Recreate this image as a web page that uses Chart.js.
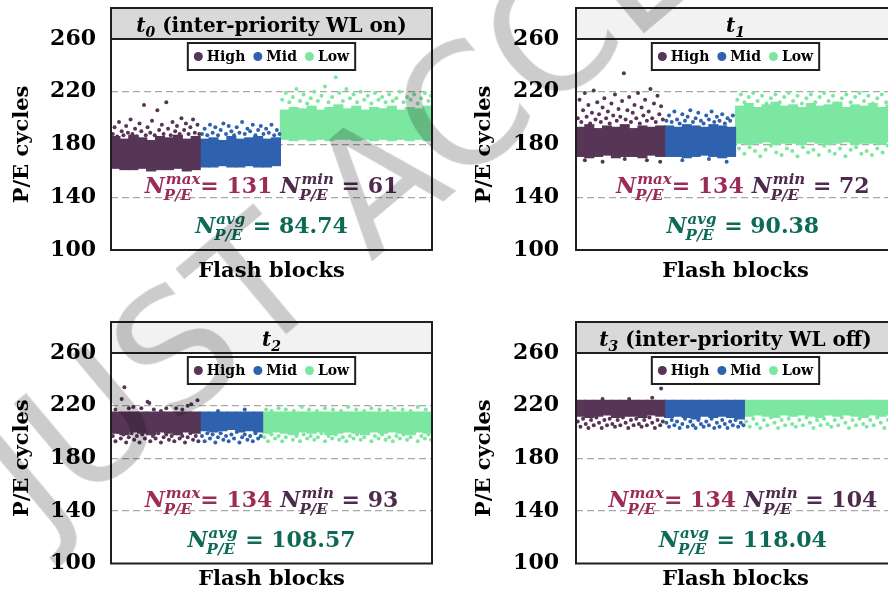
<!DOCTYPE html>
<html>
<head>
<meta charset="utf-8">
<script src="https://cdn.jsdelivr.net/npm/chart.js@4.4.0/dist/chart.umd.min.js"></script>
<style>
  html, body { margin: 0; padding: 0; background: #fff; }
  body { position: relative; width: 888px; height: 598px; overflow: hidden; }
  canvas { position: absolute; }
  #wm {
    position: absolute; left: -55px; top: 420px; z-index: 5;
    font: 165px "DejaVu Sans", sans-serif; color: rgba(0, 0, 0, 0.2);
    transform-origin: 0 0; transform: rotate(-40deg); white-space: nowrap;
    pointer-events: none;
  }
</style>
</head>
<body>
<canvas id="p0" width="444" height="300" style="left:0;top:0"></canvas>
<canvas id="p1" width="456" height="300" style="left:444px;top:0"></canvas>
<canvas id="p2" width="444" height="298" style="left:0;top:300px"></canvas>
<canvas id="p3" width="456" height="298" style="left:444px;top:300px"></canvas>
<div id="wm">JUST ACCEPTED</div>
<script>
// Axis ticks and series
const yTicks = [100, 140, 180, 220, 260];
const gridAt = [140, 180, 220];
const seriesNames = ['High', 'Mid', 'Low'];
const seriesColors = ['#573556', '#2f62ae', '#7ce7a0'];

// Summary numbers shown in each panel
const maxPE = [131, 134, 134, 134];
const minPE = [61, 72, 93, 104];
const avgPE = [84.74, 90.38, 108.57, 118.04];
const panelSub = ['0', '1', '2', '3'];
const panelText = ['(inter-priority WL on)', '', '', '(inter-priority WL off)'];

// Dense core of each cloud: block segment centre, lower and upper P/E count
const t0HighX = [5, 15, 25, 35, 45, 55, 65, 75, 85, 95];
const t0HighLo = [162, 161, 161, 162, 160, 161, 161, 162, 160, 161];
const t0HighHi = [186, 184, 187, 185, 183, 186, 185, 187, 184, 186];
const t0MidX = [105, 115, 125, 135, 145, 155, 165, 175, 185];
const t0MidLo = [163, 163, 164, 163, 163, 164, 163, 163, 164];
const t0MidHi = [184, 185, 183, 186, 184, 185, 186, 184, 185];
const t0LowX = [195, 205, 215, 225, 235, 245, 255, 265, 275, 285, 295, 305, 315, 325, 335, 345, 355];
const t0LowLo = [184, 183, 184, 183, 184, 183, 184, 184, 183, 184, 183, 184, 183, 184, 183, 184, 183];
const t0LowHi = [206, 208, 207, 209, 206, 208, 210, 207, 209, 206, 208, 207, 209, 206, 208, 207, 209];

const t1HighX = [5, 15, 25, 35, 45, 55, 65, 75, 85, 95];
const t1HighLo = [171, 170, 171, 172, 170, 171, 171, 170, 172, 171];
const t1HighHi = [193, 195, 192, 194, 193, 195, 192, 194, 193, 194];
const t1MidX = [105, 115, 125, 135, 145, 155, 165, 175];
const t1MidLo = [171, 171, 170, 171, 172, 171, 170, 171];
const t1MidHi = [194, 193, 195, 194, 193, 195, 194, 193];
const t1LowX = [185, 195, 205, 215, 225, 235, 245, 255, 265, 275, 285, 295, 305, 315, 325, 335, 345, 355];
const t1LowLo = [181, 180, 181, 182, 180, 181, 181, 180, 182, 181, 180, 181, 182, 180, 181, 181, 180, 182];
const t1LowHi = [209, 211, 208, 210, 212, 209, 210, 208, 211, 209, 210, 212, 208, 210, 209, 211, 208, 210];

const t2HighX = [5, 15, 25, 35, 45, 55, 65, 75, 85, 95];
const t2HighLo = [199, 198, 200, 199, 198, 200, 199, 198, 200, 199];
const t2HighHi = [215, 215, 215, 215, 215, 215, 215, 215, 215, 215];
const t2MidX = [105, 115, 125, 135, 145, 155, 165];
const t2MidLo = [201, 200, 201, 202, 200, 201, 200];
const t2MidHi = [215, 215, 215, 215, 215, 215, 215];
const t2LowX = [175, 185, 195, 205, 215, 225, 235, 245, 255, 265, 275, 285, 295, 305, 315, 325, 335, 345, 355];
const t2LowLo = [199, 200, 199, 198, 200, 199, 200, 198, 199, 200, 199, 198, 200, 199, 200, 199, 198, 200, 199];
const t2LowHi = [215, 215, 215, 215, 215, 215, 215, 215, 215, 215, 215, 215, 215, 215, 215, 215, 215, 215, 215];

const t3HighX = [5, 15, 25, 35, 45, 55, 65, 75, 85, 95];
const t3HighLo = [212, 211, 212, 213, 211, 212, 212, 211, 213, 212];
const t3HighHi = [224, 224, 224, 224, 224, 224, 224, 224, 224, 224];
const t3MidX = [105, 115, 125, 135, 145, 155, 165, 175, 185];
const t3MidLo = [211, 212, 211, 210, 212, 211, 212, 211, 210];
const t3MidHi = [224, 224, 224, 224, 224, 224, 224, 224, 224];
const t3LowX = [195, 205, 215, 225, 235, 245, 255, 265, 275, 285, 295, 305, 315, 325, 335, 345, 355];
const t3LowLo = [212, 213, 212, 211, 213, 212, 213, 212, 211, 213, 212, 213, 212, 211, 213, 212, 213];
const t3LowHi = [224, 224, 224, 224, 224, 224, 224, 224, 224, 224, 224, 224, 224, 224, 224, 224, 224];

// Sparse blocks around the dense core: [block, P/E]
const t0HighDots = [[2,188],[4,193],[7,186],[9,197],[12,190],[14,187],[17,194],[19,189],[22,199],[24,188],[27,192],[29,186],[32,196],[34,190],[37,210],[39,187],[41,193],[44,189],[46,198],[49,187],[52,206],[54,191],[57,195],[59,188],[62,212],[64,192],[67,187],[69,197],[72,190],[74,194],[77,188],[79,200],[82,191],[84,196],[87,188],[89,193],[92,199],[94,189],[97,195],[99,188]];
const t0MidDots = [[102,188],[105,192],[108,187],[111,195],[114,189],[117,193],[120,187],[123,191],[126,196],[129,188],[132,194],[135,190],[138,187],[141,193],[144,189],[147,197],[150,188],[153,192],[156,190],[159,195],[162,187],[165,191],[168,194],[171,188],[174,192],[177,189],[180,195],[183,187],[186,191],[189,188]];
const t0LowDots = [[192,214],[196,219],[200,212],[204,216],[208,222],[212,213],[216,218],[220,211],[224,215],[228,220],[232,213],[236,217],[240,224],[244,212],[248,216],[252,231],[256,219],[260,213],[264,222],[268,215],[272,218],[276,212],[280,220],[284,214],[288,217],[292,211],[296,219],[300,214],[304,216],[308,212],[312,218],[316,213],[320,215],[324,220],[328,212],[332,216],[336,214],[340,218],[344,211],[348,215],[352,219],[356,213],[359,217]];

const t1HighDots = [[2,200],[4,214],[6,197],[8,206],[10,219],[12,201],[14,210],[16,196],[18,204],[20,221],[22,199],[24,212],[26,203],[28,197],[30,208],[32,215],[34,200],[36,205],[38,196],[40,211],[42,202],[44,218],[46,198],[48,207],[50,201],[52,213],[54,234],[56,199],[58,206],[60,216],[62,197],[64,204],[66,210],[68,200],[70,219],[72,196],[74,208],[76,202],[78,214],[80,198],[82,205],[84,222],[86,200],[88,211],[90,197],[92,217],[94,203],[96,209],[98,199],[10,168],[30,167],[55,169],[80,168],[95,167]];
const t1MidDots = [[102,198],[105,202],[108,197],[111,205],[114,199],[117,196],[120,203],[123,198],[126,201],[129,206],[132,197],[135,200],[138,204],[141,198],[144,196],[147,202],[150,199],[153,205],[156,197],[159,201],[162,198],[165,203],[168,196],[171,200],[174,198],[177,202],[120,168],[150,169],[170,167]];
const t1LowDots = [[182,214],[186,218],[190,212],[195,216],[200,219],[205,213],[210,217],[215,211],[220,215],[225,218],[230,212],[235,216],[240,219],[245,213],[250,217],[255,211],[260,215],[265,218],[270,212],[275,216],[280,219],[285,213],[290,217],[295,211],[300,215],[305,218],[310,212],[315,216],[320,219],[325,213],[330,217],[335,211],[340,215],[345,218],[350,212],[355,216],[359,213],
  [184,177],[190,173],[196,178],[202,175],[208,171],[214,176],[220,179],[226,174],[232,172],[238,177],[244,175],[250,171],[256,178],[262,174],[268,176],[274,172],[280,179],[286,175],[292,173],[298,177],[304,171],[310,176],[316,178],[322,173],[328,175],[334,172],[340,177],[346,174],[352,179],[358,175]];

const t2HighDots = [[15,234],[12,225],[20,218],[25,219],[34,218],[41,223],[43,222],[56,216],[62,218],[73,218],[86,220],[90,221],[97,224],[5,217],[48,217],[80,217],
  [2,197],[5,193],[8,200],[11,195],[14,198],[17,192],[20,196],[23,199],[26,194],[29,197],[32,192],[35,198],[38,195],[41,200],[44,193],[47,197],[50,195],[53,199],[56,192],[59,196],[62,198],[65,194],[68,197],[71,193],[74,199],[77,195],[80,197],[83,192],[86,196],[89,199],[92,194],[95,197],[98,193]];
const t2MidDots = [[102,197],[105,193],[108,199],[111,195],[114,198],[117,192],[120,196],[123,199],[126,194],[129,197],[132,193],[135,198],[138,195],[141,200],[144,192],[147,196],[150,198],[153,194],[156,197],[159,193],[162,199],[165,195],[168,197],[120,216],[150,217]];
const t2LowDots = [[174,217],[180,216],[188,218],[196,217],[205,216],[214,219],[222,217],[231,216],[240,218],[249,217],[258,216],[266,219],[275,217],[284,216],[292,218],[301,217],[310,216],[318,218],[327,217],[336,216],[344,219],[353,217],
  [172,196],[176,193],[180,198],[184,195],[188,197],[192,193],[196,196],[200,199],[204,194],[208,197],[212,193],[216,198],[220,195],[224,197],[228,194],[232,196],[236,199],[240,193],[244,197],[248,195],[252,198],[256,194],[260,196],[264,193],[268,197],[272,195],[276,198],[280,194],[284,196],[288,199],[292,193],[296,197],[300,195],[304,198],[308,194],[312,196],[316,193],[320,197],[324,195],[328,198],[332,194],[336,196],[340,199],[344,193],[348,197],[352,195],[356,198],[359,194]];

const t3HighDots = [[86,226],[96,233],[30,225],[60,225],
  [2,208],[5,204],[8,210],[11,206],[14,203],[17,209],[20,205],[23,211],[26,207],[29,203],[32,209],[35,205],[38,210],[41,206],[44,204],[47,209],[50,205],[53,211],[56,207],[59,203],[62,209],[65,205],[68,210],[71,206],[74,204],[77,209],[80,205],[83,211],[86,207],[89,203],[92,209],[95,205],[98,208]];
const t3MidDots = [[102,207],[105,204],[108,209],[111,205],[114,208],[117,203],[120,206],[123,210],[126,204],[129,208],[132,205],[135,203],[138,209],[141,206],[144,204],[147,208],[150,205],[153,210],[156,203],[159,207],[162,204],[165,209],[168,206],[171,203],[174,208],[177,205],[180,209],[183,204],[186,207],[189,205]];
const t3LowDots = [[192,208],[196,204],[200,210],[204,206],[208,203],[212,209],[216,205],[220,211],[224,207],[228,203],[232,209],[236,205],[240,210],[244,206],[248,204],[252,209],[256,205],[260,211],[264,207],[268,203],[272,209],[276,205],[280,210],[284,206],[288,204],[292,209],[296,205],[300,211],[304,207],[308,203],[312,209],[316,205],[320,210],[324,206],[328,204],[332,209],[336,205],[340,211],[344,207],[348,203],[352,209],[356,205],[359,208]];

const SERIF = '"DejaVu Serif", serif';
const FRAME = '#1f1f1f';
const MAX_COLOR = '#9c2b57';
const MIN_COLOR = '#4e2a4c';
const AVG_COLOR = '#0d6a56';

function band(xs, lo, hi) {
  return xs.map((x, i) => ({ x: x, y: [lo[i], hi[i]] }));
}
function pts(arr) {
  return arr.map(p => ({ x: p[0], y: p[1] }));
}

// N with stacked super/subscript, then the value text
function noteWidth(ctx, sup, tail) {
  ctx.font = 'italic bold 22px ' + SERIF;
  let w = ctx.measureText('N').width;
  ctx.font = 'italic bold 15px ' + SERIF;
  w += Math.max(ctx.measureText(sup).width + 1, ctx.measureText('P/E').width - 1);
  ctx.font = 'bold 22px ' + SERIF;
  return w + ctx.measureText(tail).width;
}
function drawNote(ctx, x, base, sup, tail, color) {
  ctx.fillStyle = color;
  ctx.font = 'italic bold 22px ' + SERIF;
  ctx.fillText('N', x, base);
  x += ctx.measureText('N').width;
  ctx.font = 'italic bold 15px ' + SERIF;
  ctx.fillText(sup, x + 1, base - 9);
  ctx.fillText('P/E', x - 1, base + 7);
  x += Math.max(ctx.measureText(sup).width + 1, ctx.measureText('P/E').width - 1);
  ctx.font = 'bold 22px ' + SERIF;
  ctx.fillText(tail, x, base);
  return x + ctx.measureText(tail).width;
}

// Frame, title box, legend box and the summary notes
const panelDeco = {
  id: 'panelDeco',
  afterDatasetsDraw(chart, args, o) {
    const ctx = chart.ctx;
    const a = chart.chartArea;
    const cx = (a.left + a.right) / 2;
    ctx.save();
    ctx.textBaseline = 'alphabetic';
    ctx.textAlign = 'left';

    // plot frame
    ctx.strokeStyle = FRAME;
    ctx.lineWidth = 2;
    ctx.strokeRect(a.left, a.top, a.width, a.height);

    // title box
    ctx.fillStyle = o.fill;
    ctx.fillRect(a.left, a.top - 31, a.width, 31);
    ctx.strokeRect(a.left, a.top - 31, a.width, 31);
    ctx.font = 'italic bold 20px ' + SERIF;
    const wT = ctx.measureText('t').width;
    ctx.font = 'italic bold 14px ' + SERIF;
    const wS = ctx.measureText(o.sub).width;
    ctx.font = 'bold 20px ' + SERIF;
    const rest = o.text ? ' ' + o.text : '';
    const wR = ctx.measureText(rest).width;
    let tx = cx - (wT + wS + wR) / 2;
    const tb = a.top - 7;
    ctx.fillStyle = '#000';
    ctx.font = 'italic bold 20px ' + SERIF;
    ctx.fillText('t', tx, tb);
    ctx.font = 'italic bold 14px ' + SERIF;
    ctx.fillText(o.sub, tx + wT, tb + 5);
    ctx.font = 'bold 20px ' + SERIF;
    ctx.fillText(rest, tx + wT + wS, tb);

    // legend
    ctx.font = 'bold 14px ' + SERIF;
    const r = 4.5, gap = 4, sep = 8, pad = 6;
    const widths = seriesNames.map(n => ctx.measureText(n).width);
    const inner = widths.reduce((s, w) => s + w + 2 * r + gap, 0) + sep * (seriesNames.length - 1);
    const bw = inner + 2 * pad, bh = 27;
    const bx = cx - bw / 2, by = a.top + 4;
    ctx.fillStyle = '#fff';
    ctx.fillRect(bx, by, bw, bh);
    ctx.strokeRect(bx, by, bw, bh);
    let lx = bx + pad;
    const ly = by + bh / 2;
    seriesNames.forEach((n, i) => {
      ctx.fillStyle = seriesColors[i];
      ctx.beginPath();
      ctx.arc(lx + r, ly, r, 0, Math.PI * 2);
      ctx.fill();
      lx += 2 * r + gap;
      ctx.fillStyle = '#000';
      ctx.textBaseline = 'middle';
      ctx.fillText(n, lx, ly + 1);
      lx += widths[i] + sep;
    });
    ctx.textBaseline = 'alphabetic';

    // summary notes
    const nx = a.left + a.width * o.noteAt;
    const t1 = '= ' + o.max, t2 = ' = ' + o.min, t3 = ' = ' + o.avg.toFixed(2);
    const space = 8;
    const w1 = noteWidth(ctx, 'max', t1) + space + noteWidth(ctx, 'min', t2);
    let x = nx - w1 / 2;
    x = drawNote(ctx, x, a.top + 154, 'max', t1, MAX_COLOR);
    drawNote(ctx, x + space, a.top + 154, 'min', t2, MIN_COLOR);
    const w2 = noteWidth(ctx, 'avg', t3);
    drawNote(ctx, nx - w2 / 2, a.top + 194, 'avg', t3, AVG_COLOR);
    ctx.restore();
  }
};

const panels = [
  { id: 'p0', fill: '#d9d9d9', top: 39, right: 12, yw: 111, xh: 50, xpad: 15.4, tickPad: 15, ypad: 10, noteAt: 0.5,
    bands: [band(t0HighX, t0HighLo, t0HighHi), band(t0MidX, t0MidLo, t0MidHi), band(t0LowX, t0LowLo, t0LowHi)],
    dots: [t0HighDots, t0MidDots, t0LowDots] },
  { id: 'p1', fill: '#f2f2f2', top: 39, right: 5, yw: 132, xh: 50, xpad: 15.4, tickPad: 17, ypad: 28, noteAt: 0.523,
    bands: [band(t1HighX, t1HighLo, t1HighHi), band(t1MidX, t1MidLo, t1MidHi), band(t1LowX, t1LowLo, t1LowHi)],
    dots: [t1HighDots, t1MidDots, t1LowDots] },
  { id: 'p2', fill: '#f2f2f2', top: 53, right: 12, yw: 111, xh: 34.5, xpad: 5.4, tickPad: 15, ypad: 10, noteAt: 0.5,
    bands: [band(t2HighX, t2HighLo, t2HighHi), band(t2MidX, t2MidLo, t2MidHi), band(t2LowX, t2LowLo, t2LowHi)],
    dots: [t2HighDots, t2MidDots, t2LowDots] },
  { id: 'p3', fill: '#d9d9d9', top: 53, right: 5, yw: 132, xh: 34.5, xpad: 5.4, tickPad: 17, ypad: 28, noteAt: 0.523,
    bands: [band(t3HighX, t3HighLo, t3HighHi), band(t3MidX, t3MidLo, t3MidHi), band(t3LowX, t3LowLo, t3LowHi)],
    dots: [t3HighDots, t3MidDots, t3LowDots] }
];

panels.forEach((p, k) => {
  const datasets = [];
  seriesNames.forEach((name, i) => {
    datasets.push({
      type: 'scatter', label: name, data: pts(p.dots[i]), order: 0,
      backgroundColor: seriesColors[i], pointRadius: 2, pointBorderWidth: 0
    });
  });
  seriesNames.forEach((name, i) => {
    datasets.push({
      type: 'bar', label: name + ' core', data: p.bands[i], order: 1,
      backgroundColor: seriesColors[i], borderWidth: 0, inflateAmount: 0.6,
      barPercentage: 1, categoryPercentage: 1, grouped: false
    });
  });

  new Chart(document.getElementById(p.id), {
    type: 'scatter',
    data: { datasets: datasets },
    options: {
      responsive: false,
      animation: false,
      layout: { padding: { top: p.top, right: p.right, left: 0, bottom: 0 } },
      plugins: {
        legend: { display: false },
        tooltip: { enabled: false },
        panelDeco: { fill: p.fill, sub: panelSub[k], text: panelText[k], noteAt: p.noteAt,
          max: maxPE[k], min: minPE[k], avg: avgPE[k] }
      },
      scales: {
        x: {
          type: 'linear', min: 0, max: 360, offset: false,
          ticks: { display: false, stepSize: 10 },
          grid: { display: false },
          border: { display: false },
          title: { display: true, text: 'Flash blocks', color: '#000',
            font: { family: SERIF, size: 21, weight: 'bold' }, padding: { top: 0, bottom: p.xpad } },
          afterFit: s => { s.height = p.xh; }
        },
        y: {
          min: 100, max: 260,
          afterBuildTicks: s => { s.ticks = yTicks.map(v => ({ value: v })); },
          ticks: { color: '#000', padding: p.tickPad, font: { family: SERIF, size: 22, weight: 'bold' } },
          grid: {
            drawTicks: false, lineWidth: 1.3,
            color: c => (c.tick && gridAt.includes(c.tick.value)) ? '#a8a8a8' : 'rgba(0,0,0,0)'
          },
          border: { display: false, dash: [7, 4] },
          title: { display: true, text: 'P/E cycles', color: '#000',
            font: { family: SERIF, size: 21, weight: 'bold' }, padding: { top: p.ypad, bottom: 0 } },
          afterFit: s => { s.width = p.yw; }
        }
      }
    },
    plugins: [panelDeco]
  });
});
</script>
</body>
</html>
